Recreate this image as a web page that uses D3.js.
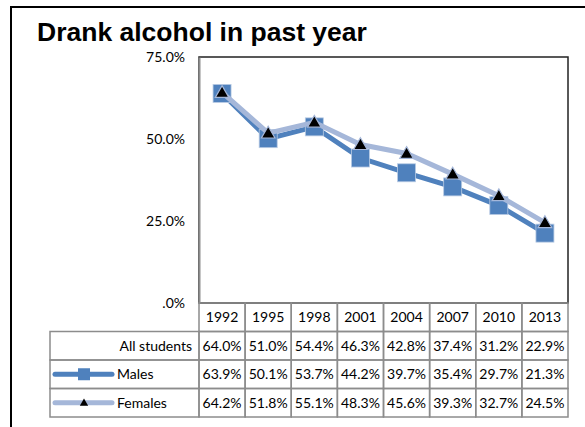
<!DOCTYPE html>
<html>
<head>
<meta charset="utf-8">
<script src="https://cdn.jsdelivr.net/npm/d3@7"></script>
<style>
  body { margin: 0; background: #fff; }
  svg text { font-family: Lato, "Open Sans", sans-serif; }
</style>
</head>
<body>
<svg id="chart"></svg>
<script>
// data
var years = ["1992","1995","1998","2001","2004","2007","2010","2013"];
var allStudents = [64.0, 51.0, 54.4, 46.3, 42.8, 37.4, 31.2, 22.9];
var males = [63.9, 50.1, 53.7, 44.2, 39.7, 35.4, 29.7, 21.3];
var females = [64.2, 51.8, 55.1, 48.3, 45.6, 39.3, 32.7, 24.5];
var yTicks = [0, 25, 50, 75];

var width = 585, height = 427,
  plotLeft = 199, plotRight = 568, plotTop = 57, plotBottom = 303,
  rowH = 28.5,
  fontSize = "14px",
  maleColor = "#4f81bd",
  femaleColor = "#a5b7d9",
  gridColor = "#8c8c8c";

var svg = d3.select("#chart")
  .attr("width", width)
  .attr("height", height);

var x = d3.scaleBand().domain(years).range([plotLeft, plotRight]);
var y = d3.scaleLinear().domain([0, 75]).range([plotBottom, plotTop]);

function fmt(v){ return v.toFixed(1) + "%"; }

// outer chart frame (cropped on right / bottom)
svg.append("path")
  .attr("d", "M11," + height + "V7H" + width)
  .attr("fill", "none")
  .attr("stroke", "#000")
  .attr("stroke-width", 2);

// title
svg.append("text")
  .attr("x", 37).attr("y", 41)
  .style("font-family", "'Liberation Sans', Arial, sans-serif")
  .style("font-weight", "bold")
  .style("font-size", "26.5px")
  .text("Drank alcohol in past year");

// plot area
svg.append("rect")
  .attr("x", plotLeft).attr("y", plotTop)
  .attr("width", plotRight - plotLeft).attr("height", plotBottom - plotTop)
  .attr("fill", "#fff")
  .attr("stroke", "#222")
  .attr("stroke-width", 1.5);

// y axis
var yAxis = svg.append("g")
  .attr("transform", "translate(" + plotLeft + ",0)")
  .call(d3.axisLeft(y).tickValues(yTicks).tickSize(0).tickPadding(14)
    .tickFormat(function(d){ return d === 0 ? ".0%" : fmt(d); }));
yAxis.select(".domain").attr("stroke", gridColor).attr("stroke-width", 2);
yAxis.selectAll("text").style("font-size", fontSize).attr("fill", "#000");

// series lines
var line = d3.line()
  .x(function(d, i){ return x(years[i]) + x.bandwidth()/2; })
  .y(function(d){ return y(d); });

svg.append("path").datum(males)
  .attr("d", line).attr("fill", "none")
  .attr("stroke", maleColor).attr("stroke-width", 5);

svg.selectAll(".sq").data(males).enter()
  .append("rect").attr("class", "sq")
  .attr("x", function(d, i){ return x(years[i]) + x.bandwidth()/2 - 9; })
  .attr("y", function(d){ return y(d) - 9; })
  .attr("width", 18).attr("height", 18)
  .attr("fill", maleColor)
  .attr("stroke", "#b9cbe4").attr("stroke-width", 0.8);

svg.append("path").datum(females)
  .attr("d", line).attr("fill", "none")
  .attr("stroke", femaleColor).attr("stroke-width", 5);

var tri = d3.symbol().type(d3.symbolTriangle).size(80);
svg.selectAll(".tri").data(females).enter()
  .append("path").attr("class", "tri")
  .attr("d", tri)
  .attr("transform", function(d, i){
    return "translate(" + (x(years[i]) + x.bandwidth()/2) + "," + (y(d) + 1) + ")";
  })
  .attr("fill", "#000")
  .attr("stroke", femaleColor).attr("stroke-width", 1.2);

// data table
var rows = [
  { name: "All students", values: allStudents },
  { name: "Males", values: males },
  { name: "Females", values: females }
];
var tableLeft = 50;
var table = svg.append("g");

// header row with years
years.forEach(function(yr){
  table.append("rect")
    .attr("x", x(yr)).attr("y", plotBottom)
    .attr("width", x.bandwidth()).attr("height", rowH)
    .attr("fill", "none").attr("stroke", gridColor).attr("stroke-width", 1.5);
  table.append("text")
    .attr("x", x(yr) + x.bandwidth()/2).attr("y", plotBottom + rowH/2)
    .attr("dy", "0.35em").attr("text-anchor", "middle")
    .style("font-size", fontSize)
    .text(yr);
});

rows.forEach(function(r, ri){
  var top = plotBottom + rowH * (ri + 1);
  table.append("rect")
    .attr("x", tableLeft).attr("y", top)
    .attr("width", plotLeft - tableLeft).attr("height", rowH)
    .attr("fill", "none").attr("stroke", gridColor).attr("stroke-width", 1.5);
  r.values.forEach(function(v, i){
    table.append("rect")
      .attr("x", x(years[i])).attr("y", top)
      .attr("width", x.bandwidth()).attr("height", rowH)
      .attr("fill", "none").attr("stroke", gridColor).attr("stroke-width", 1.5);
    table.append("text")
      .attr("x", x(years[i]) + x.bandwidth()/2).attr("y", top + rowH/2)
      .attr("dy", "0.35em").attr("text-anchor", "middle")
      .style("font-size", fontSize)
      .text(fmt(v));
  });

  var cy = top + rowH/2;
  if (ri === 0){
    table.append("text")
      .attr("x", 192).attr("y", cy).attr("dy", "0.35em")
      .attr("text-anchor", "end").style("font-size", fontSize)
      .text(r.name);
  } else {
    var col = ri === 1 ? maleColor : femaleColor;
    table.append("line")
      .attr("x1", 55).attr("x2", 112).attr("y1", cy).attr("y2", cy)
      .attr("stroke", col).attr("stroke-width", 5).attr("stroke-linecap", "round");
    if (ri === 1){
      table.append("rect")
        .attr("x", 78).attr("y", cy - 6).attr("width", 12).attr("height", 12)
        .attr("fill", maleColor);
    } else {
      table.append("path")
        .attr("d", d3.symbol().type(d3.symbolTriangle).size(30))
        .attr("transform", "translate(84," + (cy + 0.5) + ")")
        .attr("fill", "#000");
    }
    table.append("text")
      .attr("x", 117).attr("y", cy).attr("dy", "0.35em")
      .style("font-size", fontSize)
      .text(r.name);
  }
});
</script>
</body>
</html>
